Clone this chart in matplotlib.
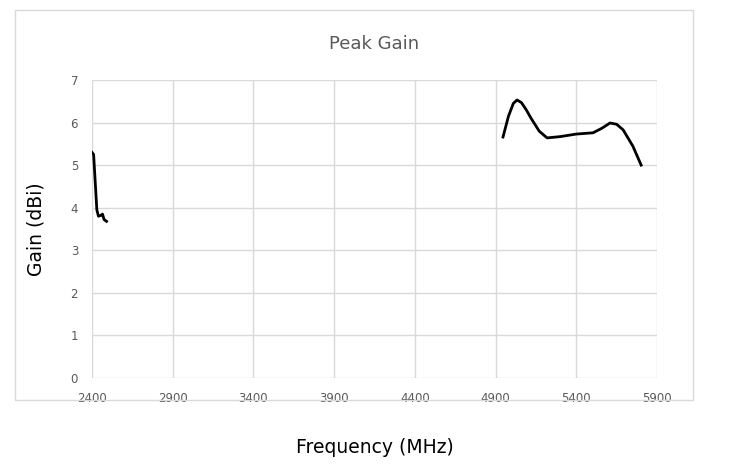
import matplotlib
matplotlib.use("Agg")
import matplotlib.pyplot as plt
from matplotlib.patches import Rectangle

freq_low = [2400, 2410, 2420, 2430, 2440, 2455, 2465, 2475, 2490]
gain_low = [5.3, 5.25, 4.6, 3.95, 3.8, 3.82, 3.85, 3.72, 3.68]
freq_high = [4946, 4980, 5010, 5033, 5060, 5090, 5120, 5170, 5219, 5300, 5400, 5504, 5560, 5609, 5650, 5690, 5750, 5802]
gain_high = [5.66, 6.15, 6.45, 6.53, 6.47, 6.3, 6.1, 5.8, 5.64, 5.67, 5.73, 5.76, 5.87, 5.99, 5.96, 5.83, 5.45, 5.0]
xticks = [2400, 2900, 3400, 3900, 4400, 4900, 5400, 5900]
yticks = [0, 1, 2, 3, 4, 5, 6, 7]

W, H = 733, 465
fig = plt.figure(figsize=(W/100, H/100), dpi=100)
fig.patches.append(Rectangle((15/W, 1-400/H), (693-15)/W, (400-10)/H, transform=fig.transFigure,
                             fill=False, edgecolor="#d9d9d9", lw=1))
ax = fig.add_axes([92/W, 1-378/H, (657-92)/W, (378-80)/H])
ax.plot(freq_low, gain_low, color="black", lw=2)
ax.plot(freq_high, gain_high, color="black", lw=2)
ax.set_xlim(2400, 5900)
ax.set_ylim(0, 7)
ax.set_xticks(xticks)
ax.set_yticks(yticks)
ax.grid(True, color="#d9d9d9", lw=1)
for s in ax.spines.values():
    s.set_visible(False)
ax.tick_params(length=0, labelsize=8.5, colors="#595959", pad=10)
ax.set_title("Peak Gain", color="#595959", fontsize=13, pad=22)
ax.set_xlabel("Frequency (MHz)", fontsize=13.5, labelpad=24)
ax.set_ylabel("Gain (dBi)", fontsize=13.5, labelpad=18)
fig.savefig("out.png", dpi=100)
